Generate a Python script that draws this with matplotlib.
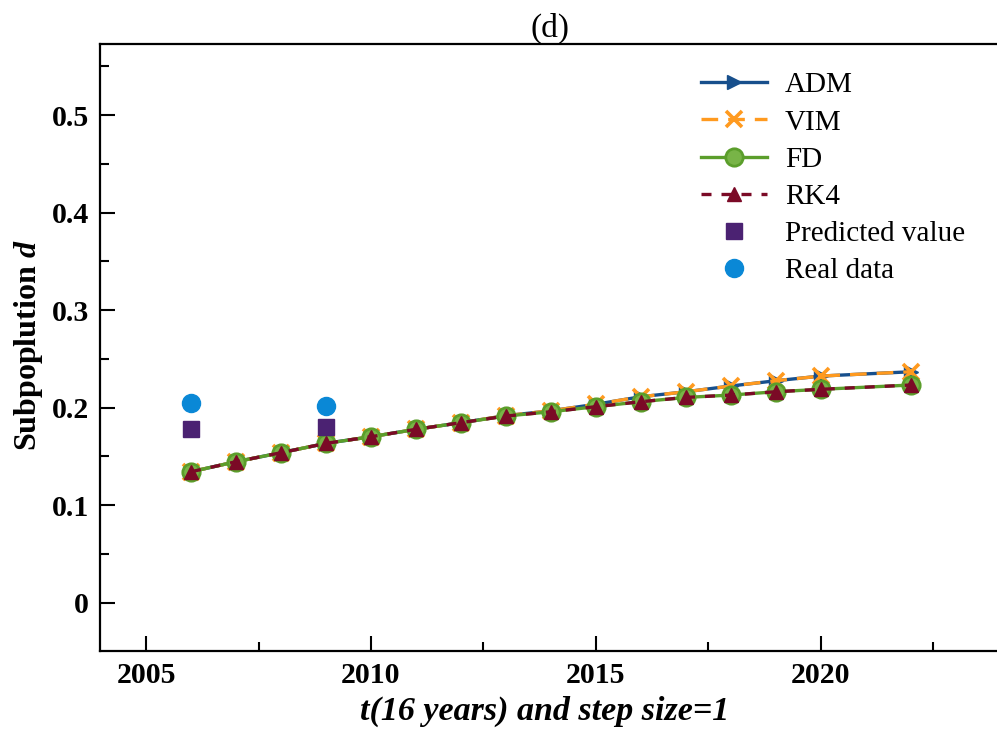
import numpy as np
import matplotlib
matplotlib.use('Agg')
import matplotlib.pyplot as plt
from matplotlib.ticker import MultipleLocator

plt.rcParams['font.family'] = ['Liberation Serif', 'DejaVu Serif']
plt.rcParams['mathtext.fontset'] = 'custom'
plt.rcParams['mathtext.it'] = 'Liberation Serif:bold:italic'
plt.rcParams['mathtext.rm'] = 'Liberation Serif:bold'

years = [2006, 2007, 2008, 2009, 2010, 2011, 2012, 2013, 2014, 2015,
         2016, 2017, 2018, 2019, 2020, 2022]
adm = [0.1343, 0.1446, 0.1538, 0.1634, 0.1702, 0.1778, 0.1846, 0.1918, 0.1968, 0.2035,
       0.2112, 0.2163, 0.2222, 0.2276, 0.2324, 0.2368]
vim = [0.1343, 0.1446, 0.1538, 0.1634, 0.1702, 0.1778, 0.1846, 0.1918, 0.1968, 0.2035,
       0.2112, 0.2163, 0.2222, 0.2276, 0.2324, 0.2368]
fd = [0.1343, 0.1446, 0.1538, 0.1634, 0.1702, 0.1778, 0.1846, 0.1914, 0.1958, 0.2010,
      0.2061, 0.2105, 0.2129, 0.2163, 0.2188, 0.2232]
rk4 = [0.1343, 0.1446, 0.1538, 0.1634, 0.1702, 0.1778, 0.1846, 0.1914, 0.1958, 0.2010,
       0.2061, 0.2105, 0.2129, 0.2163, 0.2188, 0.2232]

obs_years = [2006, 2009]
predicted = [0.1778, 0.1805]
real = [0.2050, 0.2017]

fig = plt.figure(figsize=(9.97, 7.31), dpi=100)
ax = fig.add_axes([0.1003, 0.1098, 0.9036, 0.830])

ax.plot(years, adm, color='#174f8c', lw=2.4, marker='>', ms=10, label='ADM')
ax.plot(years, vim, color='#ff9a1f', lw=2.4, ls=(0, (5, 3)), marker='x', ms=11, mew=2.6, label='VIM')
ax.plot(years, fd, color='#5b9e2b', lw=2.4, marker='o', ms=12.5, mfc='#78b447', mec='#5b9e2b', mew=2, label='FD')
ax.plot(years, rk4, color='#7b0a26', lw=2.4, ls=(0, (3, 3)), marker='^', ms=10, label='RK4')
ax.plot(obs_years, predicted, ls='none', marker='s', ms=12, color='#4b2272', label='Predicted value')
ax.plot(obs_years, real, ls='none', marker='o', ms=13, color='#0a88d6', label='Real data')

ax.set_xlim(2003.977, 2024.0)
ax.set_ylim(-0.0492, 0.5728)
ax.xaxis.set_major_locator(MultipleLocator(5))
ax.xaxis.set_minor_locator(MultipleLocator(2.5))
ax.yaxis.set_minor_locator(MultipleLocator(0.05))
ax.set_yticks([0, 0.1, 0.2, 0.3, 0.4, 0.5])
ax.set_yticklabels(['0', '0.1', '0.2', '0.3', '0.4', '0.5'])

ax.tick_params(which='major', direction='in', length=11, width=1.5, labelsize=21.5, pad=8)
ax.tick_params(which='minor', direction='in', length=6.5, width=1.5)
for lab in ax.get_xticklabels() + ax.get_yticklabels():
    lab.set_fontweight('bold')
for s in ax.spines.values():
    s.set_linewidth(1.6)

ax.set_title('(d)', fontsize=24, pad=5)
ax.set_ylabel('Subpoplution $d$', fontsize=23, fontweight='bold')
ax.yaxis.set_label_coords(-0.061, 0.504)
ax.set_xlabel('t(16 years) and step size=1', fontsize=24.5, fontweight='bold', fontstyle='italic')
ax.xaxis.set_label_coords(0.494, -0.075)

ax.legend(loc='upper left', bbox_to_anchor=(701 / 997, 1 - 72 / 731), bbox_transform=fig.transFigure,
          frameon=False, fontsize=21, handlelength=2.26, handletextpad=0.62, labelspacing=0.37,
          borderpad=0, borderaxespad=0)

fig.savefig('out.png', dpi=100)
